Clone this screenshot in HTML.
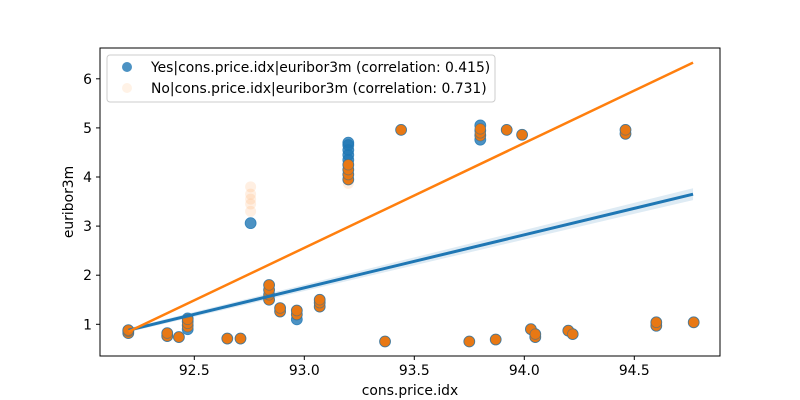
<!DOCTYPE html>
<html><head><meta charset="utf-8"><style>
body{margin:0;background:#fff;}
svg{display:block;font-family:"DejaVu Sans","Liberation Sans",sans-serif;}
</style></head><body>
<svg id="chart" width="800" height="400"></svg>
<script>
const yesX=[92.2,92.2,92.2,92.377,92.377,92.43,92.47,92.47,92.47,92.47,92.65,92.71,92.756,92.84,92.84,92.84,92.84,92.89,92.89,92.966,92.966,92.966,93.07,93.07,93.07,93.2,93.2,93.2,93.2,93.2,93.2,93.2,93.2,93.2,93.367,93.44,93.75,93.8,93.8,93.8,93.8,93.87,93.92,93.99,94.03,94.05,94.05,94.2,94.22,94.46,94.46,94.6,94.6,94.77];
const yesY=[0.82,0.86,0.88,0.76,0.82,0.74,0.9,0.98,1.06,1.12,0.71,0.71,3.06,1.5,1.6,1.7,1.8,1.26,1.33,1.1,1.2,1.28,1.36,1.44,1.5,3.95,4.05,4.15,4.25,4.35,4.45,4.55,4.65,4.7,0.65,4.96,0.65,4.76,4.85,4.95,5.05,0.69,4.96,4.86,0.9,0.74,0.8,0.87,0.8,4.88,4.96,0.97,1.04,1.04];
const noX=[92.2,92.2,92.2,92.377,92.377,92.43,92.47,92.47,92.47,92.65,92.71,92.84,92.84,92.84,92.84,92.89,92.89,92.966,92.966,93.07,93.07,93.07,93.2,93.2,93.2,93.2,93.367,93.44,93.75,93.8,93.8,93.8,93.87,93.92,93.99,94.03,94.05,94.05,94.2,94.22,94.46,94.46,94.6,94.6,94.77];
const noY=[0.82,0.86,0.88,0.76,0.82,0.74,0.95,1.02,1.1,0.71,0.71,1.5,1.6,1.7,1.8,1.26,1.33,1.2,1.28,1.36,1.44,1.5,3.95,4.05,4.15,4.25,0.65,4.96,0.65,4.84,4.9,4.98,0.69,4.96,4.86,0.9,0.74,0.8,0.87,0.8,4.88,4.96,0.97,1.04,1.04];
const noFaintX=[92.756,92.756,92.756,92.756,92.756,93.2];
const noFaintY=[3.3,3.45,3.55,3.65,3.8,3.87];
const fitX=[92.201,94.767];
const yesFit=[0.88,3.65];
const noFit=[0.85,6.33];
const yesBand=[0.04,0.12];
const xTicks=[92.5,93.0,93.5,94.0,94.5];
const yTicks=[1,2,3,4,5,6];

const L=100,R=720,T=48,B=356;
const FS=13.9;
const xs=v=>194.3+(v-92.5)*220;
const ys=v=>324.3-(v-1)*49.1;
const NS="http://www.w3.org/2000/svg";
const svg=document.getElementById('chart');
function mk(tag,attrs,parent){const e=document.createElementNS(NS,tag);for(const k in attrs)e.setAttribute(k,attrs[k]);(parent||svg).appendChild(e);return e;}

const frame=mk('rect',{x:L,y:T,width:R-L,height:B-T,fill:'#fff',stroke:'none'});



const gy=mk('g',{});


yesX.forEach((x,i)=>{const c=mk('circle',{cx:xs(x),cy:ys(yesY[i]),r:5.5,fill:'#1f77b4','fill-opacity':0.8,stroke:'#1f77b4','stroke-opacity':0.8,'stroke-width':0.8},gy);

});

const gf=mk('g',{});


noFaintX.forEach((x,i)=>{const c=mk('circle',{cx:xs(x),cy:ys(noFaintY[i]),r:5.5,fill:'#ff7f0e','fill-opacity':0.12},gf);

});

const gn=mk('g',{});


noX.forEach((x,i)=>{const c=mk('circle',{cx:xs(x),cy:ys(noY[i]),r:5.3,fill:'#e87814',stroke:'#3f6f90','stroke-opacity':0.6,'stroke-width':0.8},gn);

});

const band=mk('polygon',{points:`${xs(fitX[0])},${ys(yesFit[0]+yesBand[0])} ${xs(fitX[1])},${ys(yesFit[1]+yesBand[1])} ${xs(fitX[1])},${ys(yesFit[1]-yesBand[1])} ${xs(fitX[0])},${ys(yesFit[0]-yesBand[0])}`,fill:'#1f77b4','fill-opacity':0.15});


const ly=mk('line',{x1:xs(fitX[0]),y1:ys(yesFit[0]),x2:xs(fitX[1]),y2:ys(yesFit[1]),stroke:'#1f77b4','stroke-width':3});


const ln=mk('line',{x1:xs(fitX[0]),y1:ys(noFit[0]),x2:xs(fitX[1]),y2:ys(noFit[1]),stroke:'#ff7f0e','stroke-width':2.5});



const border=mk('rect',{x:L,y:T,width:R-L,height:B-T,fill:'none',stroke:'#000','stroke-width':1});



xTicks.forEach(t=>{const x=xs(t);mk('line',{x1:x,y1:B,x2:x,y2:B+4,stroke:'#000'});
const tx=mk('text',{x:x,y:B+19,'text-anchor':'middle','font-size':FS,fill:'#000'});tx.textContent=t.toFixed(1);

});
yTicks.forEach(t=>{const y=ys(t);mk('line',{x1:L-4,y1:y,x2:L,y2:y,stroke:'#000'});
const tx=mk('text',{x:L-8,y:y+5,'text-anchor':'end','font-size':FS,fill:'#000'});tx.textContent=t;

});

const xt=mk('text',{x:410,y:395,'text-anchor':'middle','font-size':FS,fill:'#000'});xt.textContent='cons.price.idx';


const yt=mk('text',{x:73,y:202,'text-anchor':'middle','font-size':FS,fill:'#000',transform:'rotate(-90 73 202)'});yt.textContent='euribor3m';



const lg=mk('g',{});


mk('rect',{x:107,y:55,width:388,height:47,rx:3,fill:'#fff','fill-opacity':0.8,stroke:'#ccc'},lg);
mk('circle',{cx:127,cy:67,r:5,fill:'#1f77b4','fill-opacity':0.8},lg);
mk('circle',{cx:127,cy:88,r:5,fill:'#ff7f0e','fill-opacity':0.1},lg);
const l1=mk('text',{x:151,y:72,'font-size':FS,fill:'#000'},lg);l1.textContent='Yes|cons.price.idx|euribor3m (correlation: 0.415)';


const l2=mk('text',{x:151,y:93,'font-size':FS,fill:'#000'},lg);l2.textContent='No|cons.price.idx|euribor3m (correlation: 0.731)';


</script>
</body></html>
